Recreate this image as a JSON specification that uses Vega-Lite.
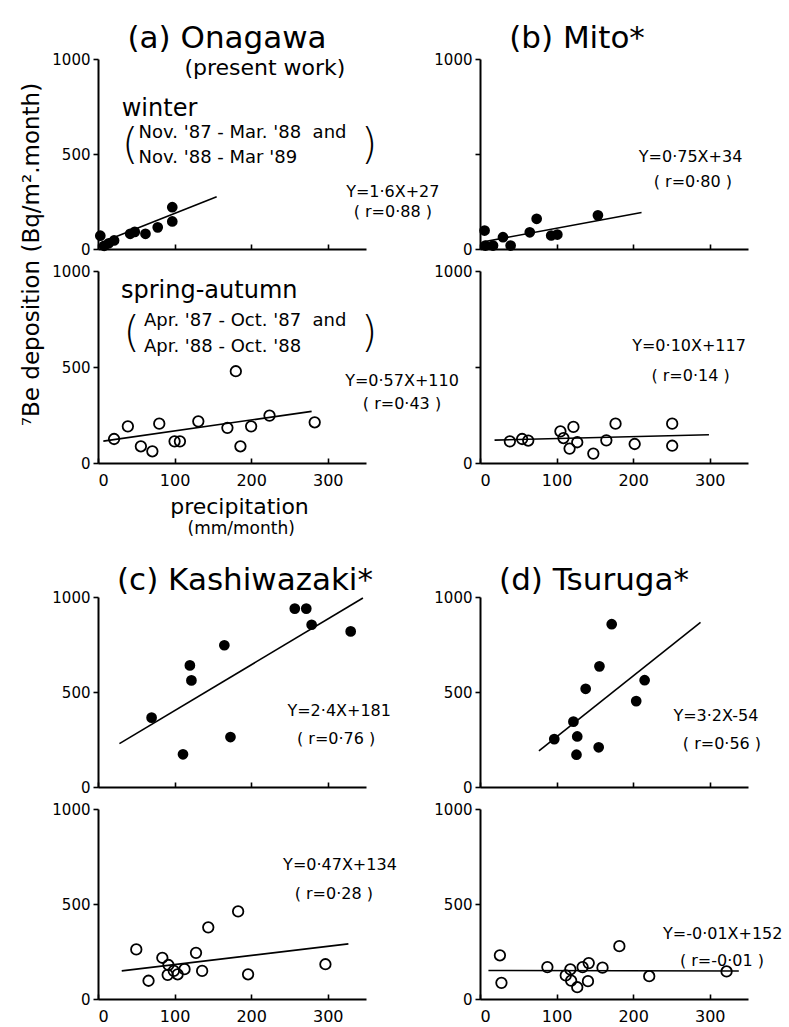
{
  "$schema": "https://vega.github.io/schema/vega-lite/v6.json",
  "background": "white",
  "padding": {"left": 20, "top": 23, "right": 5, "bottom": 5},
  "datasets": {
    "points": [
      {"panel": "a_w", "x": 3, "y": 70}, {"panel": "a_w", "x": 8, "y": 17}, {"panel": "a_w", "x": 14, "y": 30}, {"panel": "a_w", "x": 21, "y": 45}, {"panel": "a_w", "x": 42, "y": 80}, {"panel": "a_w", "x": 48, "y": 90}, {"panel": "a_w", "x": 62, "y": 80}, {"panel": "a_w", "x": 78, "y": 114}, {"panel": "a_w", "x": 97, "y": 145}, {"panel": "a_w", "x": 97, "y": 220},
      {"panel": "a_s", "x": 21, "y": 125}, {"panel": "a_s", "x": 39, "y": 191}, {"panel": "a_s", "x": 56, "y": 87}, {"panel": "a_s", "x": 71, "y": 61}, {"panel": "a_s", "x": 80, "y": 205}, {"panel": "a_s", "x": 100, "y": 113}, {"panel": "a_s", "x": 107, "y": 113}, {"panel": "a_s", "x": 131, "y": 217}, {"panel": "a_s", "x": 169, "y": 183}, {"panel": "a_s", "x": 180, "y": 478}, {"panel": "a_s", "x": 186, "y": 87}, {"panel": "a_s", "x": 200, "y": 191}, {"panel": "a_s", "x": 224, "y": 247}, {"panel": "a_s", "x": 283, "y": 212},
      {"panel": "b_w", "x": 6, "y": 97}, {"panel": "b_w", "x": 7, "y": 18}, {"panel": "b_w", "x": 17, "y": 18}, {"panel": "b_w", "x": 30, "y": 62}, {"panel": "b_w", "x": 40, "y": 18}, {"panel": "b_w", "x": 65, "y": 88}, {"panel": "b_w", "x": 74, "y": 159}, {"panel": "b_w", "x": 93, "y": 71}, {"panel": "b_w", "x": 101, "y": 76}, {"panel": "b_w", "x": 154, "y": 177},
      {"panel": "b_s", "x": 39, "y": 113}, {"panel": "b_s", "x": 55, "y": 125}, {"panel": "b_s", "x": 63, "y": 117}, {"panel": "b_s", "x": 105, "y": 165}, {"panel": "b_s", "x": 109, "y": 130}, {"panel": "b_s", "x": 122, "y": 188}, {"panel": "b_s", "x": 117, "y": 75}, {"panel": "b_s", "x": 127, "y": 108}, {"panel": "b_s", "x": 148, "y": 49}, {"panel": "b_s", "x": 165, "y": 118}, {"panel": "b_s", "x": 177, "y": 205}, {"panel": "b_s", "x": 202, "y": 99}, {"panel": "b_s", "x": 251, "y": 205}, {"panel": "b_s", "x": 251, "y": 90},
      {"panel": "c_w", "x": 70, "y": 365}, {"panel": "c_w", "x": 111, "y": 172}, {"panel": "c_w", "x": 120, "y": 640}, {"panel": "c_w", "x": 122, "y": 561}, {"panel": "c_w", "x": 165, "y": 746}, {"panel": "c_w", "x": 173, "y": 263}, {"panel": "c_w", "x": 257, "y": 939}, {"panel": "c_w", "x": 272, "y": 939}, {"panel": "c_w", "x": 279, "y": 854}, {"panel": "c_w", "x": 330, "y": 819},
      {"panel": "c_s", "x": 50, "y": 261}, {"panel": "c_s", "x": 66, "y": 96}, {"panel": "c_s", "x": 84, "y": 217}, {"panel": "c_s", "x": 91, "y": 127}, {"panel": "c_s", "x": 92, "y": 179}, {"panel": "c_s", "x": 99, "y": 148}, {"panel": "c_s", "x": 104, "y": 130}, {"panel": "c_s", "x": 113, "y": 157}, {"panel": "c_s", "x": 128, "y": 243}, {"panel": "c_s", "x": 136, "y": 148}, {"panel": "c_s", "x": 144, "y": 377}, {"panel": "c_s", "x": 183, "y": 461}, {"panel": "c_s", "x": 196, "y": 130}, {"panel": "c_s", "x": 297, "y": 183},
      {"panel": "d_w", "x": 97, "y": 252}, {"panel": "d_w", "x": 122, "y": 344}, {"panel": "d_w", "x": 127, "y": 266}, {"panel": "d_w", "x": 126, "y": 170}, {"panel": "d_w", "x": 138, "y": 517}, {"panel": "d_w", "x": 156, "y": 635}, {"panel": "d_w", "x": 155, "y": 209}, {"panel": "d_w", "x": 172, "y": 857}, {"panel": "d_w", "x": 204, "y": 452}, {"panel": "d_w", "x": 215, "y": 562},
      {"panel": "d_s", "x": 26, "y": 230}, {"panel": "d_s", "x": 28, "y": 85}, {"panel": "d_s", "x": 88, "y": 168}, {"panel": "d_s", "x": 112, "y": 124}, {"panel": "d_s", "x": 118, "y": 156}, {"panel": "d_s", "x": 119, "y": 97}, {"panel": "d_s", "x": 127, "y": 62}, {"panel": "d_s", "x": 134, "y": 168}, {"panel": "d_s", "x": 142, "y": 189}, {"panel": "d_s", "x": 141, "y": 94}, {"panel": "d_s", "x": 160, "y": 165}, {"panel": "d_s", "x": 182, "y": 278}, {"panel": "d_s", "x": 221, "y": 120}, {"panel": "d_s", "x": 322, "y": 145}
    ],
    "fits": [
      {"panel": "a_w", "x": 10, "y": 43}, {"panel": "a_w", "x": 155, "y": 275},
      {"panel": "a_s", "x": 7, "y": 114}, {"panel": "a_s", "x": 279, "y": 269},
      {"panel": "b_w", "x": 5, "y": 38}, {"panel": "b_w", "x": 211, "y": 192},
      {"panel": "b_s", "x": 19, "y": 119}, {"panel": "b_s", "x": 299, "y": 147},
      {"panel": "c_w", "x": 28, "y": 228}, {"panel": "c_w", "x": 346, "y": 995},
      {"panel": "c_s", "x": 31, "y": 148}, {"panel": "c_s", "x": 327, "y": 290},
      {"panel": "d_w", "x": 77, "y": 190}, {"panel": "d_w", "x": 288, "y": 866},
      {"panel": "d_s", "x": 11, "y": 150}, {"panel": "d_s", "x": 338, "y": 147}
    ],
    "notes": [
      {"panel": "a_w", "kind": "sub", "x": 218, "y": 953, "label": "(present work)"},
      {"panel": "a_w", "kind": "season", "x": 31, "y": 737, "label": "winter"},
      {"panel": "a_w", "kind": "period", "x": 53, "y": 610, "label": "Nov. '87 - Mar. '88\u00a0\u00a0and"},
      {"panel": "a_w", "kind": "period", "x": 53, "y": 479, "label": "Nov. '88 - Mar '89"},
      {"panel": "a_w", "kind": "paren", "x": 42, "y": 542, "label": "("},
      {"panel": "a_w", "kind": "paren", "x": 354, "y": 542, "label": ")"},
      {"panel": "a_w", "kind": "eq", "x": 385, "y": 300, "label": "Y=1·6X+27"},
      {"panel": "a_w", "kind": "eq", "x": 385, "y": 195, "label": "( r=0·88 )"},
      {"panel": "a_s", "kind": "season", "x": 30, "y": 896, "label": "spring-autumn"},
      {"panel": "a_s", "kind": "period", "x": 60, "y": 740, "label": "Apr. '87 - Oct. '87\u00a0\u00a0and"},
      {"panel": "a_s", "kind": "period", "x": 60, "y": 604, "label": "Apr. '88 - Oct. '88"},
      {"panel": "a_s", "kind": "paren", "x": 44, "y": 672, "label": "("},
      {"panel": "a_s", "kind": "paren", "x": 354, "y": 672, "label": ")"},
      {"panel": "a_s", "kind": "eq", "x": 397, "y": 427, "label": "Y=0·57X+110"},
      {"panel": "a_s", "kind": "eq", "x": 397, "y": 307, "label": "( r=0·43 )"},
      {"panel": "a_s", "kind": "unit", "x": 187, "y": -344, "label": "(mm/month)"},
      {"panel": "b_w", "kind": "eq", "x": 275, "y": 484, "label": "Y=0·75X+34"},
      {"panel": "b_w", "kind": "eq", "x": 278, "y": 353, "label": "( r=0·80 )"},
      {"panel": "b_s", "kind": "eq", "x": 273, "y": 609, "label": "Y=0·10X+117"},
      {"panel": "b_s", "kind": "eq", "x": 275, "y": 453, "label": "( r=0·14 )"},
      {"panel": "c_w", "kind": "eq", "x": 315, "y": 400, "label": "Y=2·4X+181"},
      {"panel": "c_w", "kind": "eq", "x": 311, "y": 253, "label": "( r=0·76 )"},
      {"panel": "c_s", "kind": "eq", "x": 316, "y": 707, "label": "Y=0·47X+134"},
      {"panel": "c_s", "kind": "eq", "x": 308, "y": 555, "label": "( r=0·28 )"},
      {"panel": "d_w", "kind": "eq", "x": 308, "y": 374, "label": "Y=3·2X-54"},
      {"panel": "d_w", "kind": "eq", "x": 316, "y": 226, "label": "( r=0·56 )"},
      {"panel": "d_s", "kind": "eq", "x": 317, "y": 342, "label": "Y=-0·01X+152"},
      {"panel": "d_s", "kind": "eq", "x": 316, "y": 200, "label": "( r=-0·01 )"}
    ]
  },
  "columns": 2,
  "bounds": "flush",
  "spacing": {"row": 22, "column": 114},
  "concat": [
    {
      "width": 268, "height": 190,
      "title": {"text": "(a) Onagawa", "fontSize": 31, "frame": "group", "anchor": "middle", "baseline": "alphabetic", "offset": 14, "dy": 41, "dx": -5},
      "layer": [
        {"data": {"name": "fits"}, "transform": [{"filter": "datum.panel === 'a_w'"}], "mark": {"type": "line", "color": "black", "strokeWidth": 1.6},
         "encoding": {
           "x": {"field": "x", "type": "quantitative", "scale": {"domain": [0, 350], "nice": false}, "axis": {"values": [0, 100, 200, 300], "tickSize": -5, "labels": false, "title": null}},
           "y": {"field": "y", "type": "quantitative", "scale": {"domain": [0, 1000], "nice": false}, "axis": {"values": [0, 500, 1000], "format": "d", "tickSize": 5, "labelPadding": 3, "title": "⁷Be deposition (Bq/m².month)", "titleFontSize": 23, "titleX": -60, "titleY": 195, "titleBaseline": "alphabetic", "titleAlign": "center"}}
         }},
        {"data": {"name": "points"}, "transform": [{"filter": "datum.panel === 'a_w'"}], "mark": {"type": "point", "shape": "circle", "filled": true, "size": 115, "color": "black", "opacity": 1},
         "encoding": {"x": {"field": "x", "type": "quantitative"}, "y": {"field": "y", "type": "quantitative"}}},
        {"data": {"name": "notes"}, "transform": [{"filter": "datum.panel === 'a_w' && datum.kind === 'season'"}], "mark": {"type": "text", "align": "left", "baseline": "middle", "fontSize": 24, "color": "black"},
         "encoding": {"x": {"field": "x", "type": "quantitative"}, "y": {"field": "y", "type": "quantitative"}, "text": {"field": "label"}}},
        {"data": {"name": "notes"}, "transform": [{"filter": "datum.panel === 'a_w' && datum.kind === 'period'"}], "mark": {"type": "text", "align": "left", "baseline": "middle", "fontSize": 18, "color": "black"},
         "encoding": {"x": {"field": "x", "type": "quantitative"}, "y": {"field": "y", "type": "quantitative"}, "text": {"field": "label"}}},
        {"data": {"name": "notes"}, "transform": [{"filter": "datum.panel === 'a_w' && datum.kind === 'paren'"}], "mark": {"type": "text", "align": "center", "baseline": "middle", "fontSize": 42, "fontWeight": 200, "color": "black"},
         "encoding": {"x": {"field": "x", "type": "quantitative"}, "y": {"field": "y", "type": "quantitative"}, "text": {"field": "label"}}},
        {"data": {"name": "notes"}, "transform": [{"filter": "datum.panel === 'a_w' && datum.kind === 'sub'"}], "mark": {"type": "text", "align": "center", "baseline": "middle", "fontSize": 22, "color": "black"},
         "encoding": {"x": {"field": "x", "type": "quantitative"}, "y": {"field": "y", "type": "quantitative"}, "text": {"field": "label"}}},
        {"data": {"name": "notes"}, "transform": [{"filter": "datum.panel === 'a_w' && datum.kind === 'eq'"}], "mark": {"type": "text", "align": "center", "baseline": "middle", "fontSize": 16, "color": "black"},
         "encoding": {"x": {"field": "x", "type": "quantitative"}, "y": {"field": "y", "type": "quantitative"}, "text": {"field": "label"}}}
      ]
    },
    {
      "width": 268, "height": 190,
      "title": {"text": "(b) Mito*", "fontSize": 31, "frame": "group", "anchor": "middle", "baseline": "alphabetic", "offset": 14, "dy": 41, "dx": -37},
      "layer": [
        {"data": {"name": "fits"}, "transform": [{"filter": "datum.panel === 'b_w'"}], "mark": {"type": "line", "color": "black", "strokeWidth": 1.6},
         "encoding": {
           "x": {"field": "x", "type": "quantitative", "scale": {"domain": [0, 350], "nice": false}, "axis": {"values": [0, 100, 200, 300], "tickSize": -5, "labels": false, "title": null}},
           "y": {"field": "y", "type": "quantitative", "scale": {"domain": [0, 1000], "nice": false}, "axis": {"values": [0, 500, 1000], "format": "d", "tickSize": 5, "labelPadding": 3, "title": null, "labelExpr": "datum.value === 500 ? '' : datum.label"}}
         }},
        {"data": {"name": "points"}, "transform": [{"filter": "datum.panel === 'b_w'"}], "mark": {"type": "point", "shape": "circle", "filled": true, "size": 115, "color": "black", "opacity": 1},
         "encoding": {"x": {"field": "x", "type": "quantitative"}, "y": {"field": "y", "type": "quantitative"}}},
        {"data": {"name": "notes"}, "transform": [{"filter": "datum.panel === 'b_w'"}], "mark": {"type": "text", "align": "center", "baseline": "middle", "fontSize": 16, "color": "black"},
         "encoding": {"x": {"field": "x", "type": "quantitative"}, "y": {"field": "y", "type": "quantitative"}, "text": {"field": "label"}}}
      ]
    },
    {
      "width": 268, "height": 192,
      "layer": [
        {"data": {"name": "fits"}, "transform": [{"filter": "datum.panel === 'a_s'"}], "mark": {"type": "line", "color": "black", "strokeWidth": 1.6},
         "encoding": {
           "x": {"field": "x", "type": "quantitative", "scale": {"domain": [0, 350], "nice": false}, "axis": {"values": [0, 100, 200, 300], "tickSize": -5, "labelFontSize": 16, "labelPadding": 14, "title": "precipitation", "titleFontSize": 22, "titlePadding": 8, "titleX": 141}},
           "y": {"field": "y", "type": "quantitative", "scale": {"domain": [0, 1000], "nice": false}, "axis": {"values": [0, 500, 1000], "format": "d", "tickSize": 5, "labelPadding": 3, "title": null}}
         }},
        {"data": {"name": "points"}, "transform": [{"filter": "datum.panel === 'a_s'"}], "mark": {"type": "point", "shape": "circle", "filled": false, "size": 110, "strokeWidth": 1.8, "color": "black", "opacity": 1},
         "encoding": {"x": {"field": "x", "type": "quantitative"}, "y": {"field": "y", "type": "quantitative"}}},
        {"data": {"name": "notes"}, "transform": [{"filter": "datum.panel === 'a_s' && datum.kind === 'season'"}], "mark": {"type": "text", "align": "left", "baseline": "middle", "fontSize": 24, "color": "black"},
         "encoding": {"x": {"field": "x", "type": "quantitative"}, "y": {"field": "y", "type": "quantitative"}, "text": {"field": "label"}}},
        {"data": {"name": "notes"}, "transform": [{"filter": "datum.panel === 'a_s' && datum.kind === 'period'"}], "mark": {"type": "text", "align": "left", "baseline": "middle", "fontSize": 18, "color": "black"},
         "encoding": {"x": {"field": "x", "type": "quantitative"}, "y": {"field": "y", "type": "quantitative"}, "text": {"field": "label"}}},
        {"data": {"name": "notes"}, "transform": [{"filter": "datum.panel === 'a_s' && datum.kind === 'paren'"}], "mark": {"type": "text", "align": "center", "baseline": "middle", "fontSize": 42, "fontWeight": 200, "color": "black"},
         "encoding": {"x": {"field": "x", "type": "quantitative"}, "y": {"field": "y", "type": "quantitative"}, "text": {"field": "label"}}},
        {"data": {"name": "notes"}, "transform": [{"filter": "datum.panel === 'a_s' && datum.kind === 'eq'"}], "mark": {"type": "text", "align": "center", "baseline": "middle", "fontSize": 16, "color": "black"},
         "encoding": {"x": {"field": "x", "type": "quantitative"}, "y": {"field": "y", "type": "quantitative"}, "text": {"field": "label"}}},
        {"data": {"name": "notes"}, "transform": [{"filter": "datum.panel === 'a_s' && datum.kind === 'unit'"}], "mark": {"type": "text", "align": "center", "baseline": "middle", "fontSize": 17, "color": "black"},
         "encoding": {"x": {"field": "x", "type": "quantitative"}, "y": {"field": "y", "type": "quantitative"}, "text": {"field": "label"}}}
      ]
    },
    {
      "width": 268, "height": 192,
      "layer": [
        {"data": {"name": "fits"}, "transform": [{"filter": "datum.panel === 'b_s'"}], "mark": {"type": "line", "color": "black", "strokeWidth": 1.6},
         "encoding": {
           "x": {"field": "x", "type": "quantitative", "scale": {"domain": [0, 350], "nice": false}, "axis": {"values": [0, 100, 200, 300], "tickSize": -5, "labelFontSize": 16, "labelPadding": 14, "title": null}},
           "y": {"field": "y", "type": "quantitative", "scale": {"domain": [0, 1000], "nice": false}, "axis": {"values": [0, 500, 1000], "format": "d", "tickSize": 5, "labelPadding": 3, "title": null, "labelExpr": "datum.value === 500 ? '' : datum.label"}}
         }},
        {"data": {"name": "points"}, "transform": [{"filter": "datum.panel === 'b_s'"}], "mark": {"type": "point", "shape": "circle", "filled": false, "size": 110, "strokeWidth": 1.8, "color": "black", "opacity": 1},
         "encoding": {"x": {"field": "x", "type": "quantitative"}, "y": {"field": "y", "type": "quantitative"}}},
        {"data": {"name": "notes"}, "transform": [{"filter": "datum.panel === 'b_s'"}], "mark": {"type": "text", "align": "center", "baseline": "middle", "fontSize": 16, "color": "black"},
         "encoding": {"x": {"field": "x", "type": "quantitative"}, "y": {"field": "y", "type": "quantitative"}, "text": {"field": "label"}}}
      ]
    },
    {"width": 268, "height": 90, "data": {"values": [{"t": ""}]}, "mark": {"type": "text"}, "encoding": {"text": {"field": "t"}}},
    {"width": 268, "height": 90, "data": {"values": [{"t": ""}]}, "mark": {"type": "text"}, "encoding": {"text": {"field": "t"}}},
    {
      "width": 268, "height": 190,
      "title": {"text": "(c) Kashiwazaki*", "fontSize": 31, "frame": "group", "anchor": "middle", "baseline": "alphabetic", "offset": 10, "dy": 41, "dx": 13},
      "layer": [
        {"data": {"name": "fits"}, "transform": [{"filter": "datum.panel === 'c_w'"}], "mark": {"type": "line", "color": "black", "strokeWidth": 1.6},
         "encoding": {
           "x": {"field": "x", "type": "quantitative", "scale": {"domain": [0, 350], "nice": false}, "axis": {"values": [0, 100, 200, 300], "tickSize": -5, "labels": false, "title": null}},
           "y": {"field": "y", "type": "quantitative", "scale": {"domain": [0, 1000], "nice": false}, "axis": {"values": [0, 500, 1000], "format": "d", "tickSize": 5, "labelPadding": 3, "title": null}}
         }},
        {"data": {"name": "points"}, "transform": [{"filter": "datum.panel === 'c_w'"}], "mark": {"type": "point", "shape": "circle", "filled": true, "size": 115, "color": "black", "opacity": 1},
         "encoding": {"x": {"field": "x", "type": "quantitative"}, "y": {"field": "y", "type": "quantitative"}}},
        {"data": {"name": "notes"}, "transform": [{"filter": "datum.panel === 'c_w'"}], "mark": {"type": "text", "align": "center", "baseline": "middle", "fontSize": 16, "color": "black"},
         "encoding": {"x": {"field": "x", "type": "quantitative"}, "y": {"field": "y", "type": "quantitative"}, "text": {"field": "label"}}}
      ]
    },
    {
      "width": 268, "height": 190,
      "title": {"text": "(d) Tsuruga*", "fontSize": 31, "frame": "group", "anchor": "middle", "baseline": "alphabetic", "offset": 10, "dy": 41, "dx": -20},
      "layer": [
        {"data": {"name": "fits"}, "transform": [{"filter": "datum.panel === 'd_w'"}], "mark": {"type": "line", "color": "black", "strokeWidth": 1.6},
         "encoding": {
           "x": {"field": "x", "type": "quantitative", "scale": {"domain": [0, 350], "nice": false}, "axis": {"values": [0, 100, 200, 300], "tickSize": -5, "labels": false, "title": null}},
           "y": {"field": "y", "type": "quantitative", "scale": {"domain": [0, 1000], "nice": false}, "axis": {"values": [0, 500, 1000], "format": "d", "tickSize": 5, "labelPadding": 3, "title": null}}
         }},
        {"data": {"name": "points"}, "transform": [{"filter": "datum.panel === 'd_w'"}], "mark": {"type": "point", "shape": "circle", "filled": true, "size": 115, "color": "black", "opacity": 1},
         "encoding": {"x": {"field": "x", "type": "quantitative"}, "y": {"field": "y", "type": "quantitative"}}},
        {"data": {"name": "notes"}, "transform": [{"filter": "datum.panel === 'd_w'"}], "mark": {"type": "text", "align": "center", "baseline": "middle", "fontSize": 16, "color": "black"},
         "encoding": {"x": {"field": "x", "type": "quantitative"}, "y": {"field": "y", "type": "quantitative"}, "text": {"field": "label"}}}
      ]
    },
    {
      "width": 268, "height": 190,
      "layer": [
        {"data": {"name": "fits"}, "transform": [{"filter": "datum.panel === 'c_s'"}], "mark": {"type": "line", "color": "black", "strokeWidth": 1.6},
         "encoding": {
           "x": {"field": "x", "type": "quantitative", "scale": {"domain": [0, 350], "nice": false}, "axis": {"values": [0, 100, 200, 300], "tickSize": -5, "labelFontSize": 16, "labelPadding": 14, "title": null}},
           "y": {"field": "y", "type": "quantitative", "scale": {"domain": [0, 1000], "nice": false}, "axis": {"values": [0, 500, 1000], "format": "d", "tickSize": 5, "labelPadding": 3, "title": null}}
         }},
        {"data": {"name": "points"}, "transform": [{"filter": "datum.panel === 'c_s'"}], "mark": {"type": "point", "shape": "circle", "filled": false, "size": 110, "strokeWidth": 1.8, "color": "black", "opacity": 1},
         "encoding": {"x": {"field": "x", "type": "quantitative"}, "y": {"field": "y", "type": "quantitative"}}},
        {"data": {"name": "notes"}, "transform": [{"filter": "datum.panel === 'c_s'"}], "mark": {"type": "text", "align": "center", "baseline": "middle", "fontSize": 16, "color": "black"},
         "encoding": {"x": {"field": "x", "type": "quantitative"}, "y": {"field": "y", "type": "quantitative"}, "text": {"field": "label"}}}
      ]
    },
    {
      "width": 268, "height": 190,
      "layer": [
        {"data": {"name": "fits"}, "transform": [{"filter": "datum.panel === 'd_s'"}], "mark": {"type": "line", "color": "black", "strokeWidth": 1.6},
         "encoding": {
           "x": {"field": "x", "type": "quantitative", "scale": {"domain": [0, 350], "nice": false}, "axis": {"values": [0, 100, 200, 300], "tickSize": -5, "labelFontSize": 16, "labelPadding": 14, "title": null}},
           "y": {"field": "y", "type": "quantitative", "scale": {"domain": [0, 1000], "nice": false}, "axis": {"values": [0, 500, 1000], "format": "d", "tickSize": 5, "labelPadding": 3, "title": null}}
         }},
        {"data": {"name": "points"}, "transform": [{"filter": "datum.panel === 'd_s'"}], "mark": {"type": "point", "shape": "circle", "filled": false, "size": 110, "strokeWidth": 1.8, "color": "black", "opacity": 1},
         "encoding": {"x": {"field": "x", "type": "quantitative"}, "y": {"field": "y", "type": "quantitative"}}},
        {"data": {"name": "notes"}, "transform": [{"filter": "datum.panel === 'd_s'"}], "mark": {"type": "text", "align": "center", "baseline": "middle", "fontSize": 16, "color": "black"},
         "encoding": {"x": {"field": "x", "type": "quantitative"}, "y": {"field": "y", "type": "quantitative"}, "text": {"field": "label"}}}
      ]
    }
  ],
  "config": {
    "font": "DejaVu Sans",
    "view": {"stroke": null},
    "axis": {"domainColor": "black", "domainWidth": 2, "tickColor": "black", "tickWidth": 1.6, "labelColor": "black", "labelFontSize": 15, "grid": false, "titleColor": "black", "titleFontWeight": "normal"},
    "title": {"color": "black", "fontWeight": "normal"},
    "text": {"color": "black"}
  }
}
